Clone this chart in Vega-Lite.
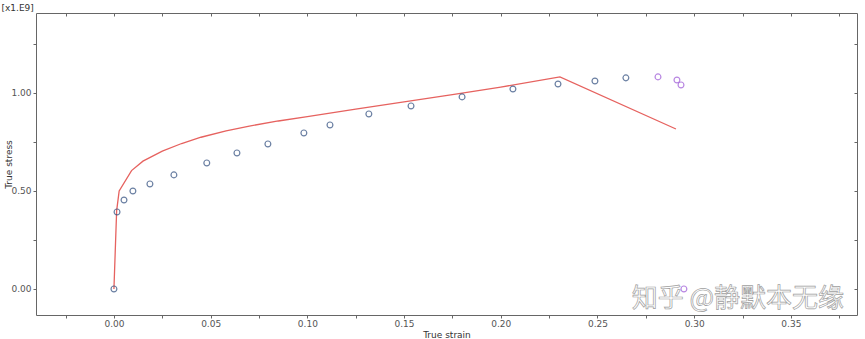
{
  "$schema": "https://vega.github.io/schema/vega-lite/v6.json",
  "autosize": "none",
  "width": 821,
  "height": 302,
  "padding": {"left": 36, "top": 13, "right": 8, "bottom": 24},
  "background": "white",
  "config": {
    "view": {"stroke": null},
    "font": "DejaVu Sans",
    "axis": {"grid": false, "domainColor": "#666666", "tickColor": "#666666", "labelColor": "#555555", "titleColor": "#333333", "labelFontSize": 9, "titleFontSize": 9, "titleFontWeight": "normal", "labelFont": "DejaVu Sans", "titleFont": "DejaVu Sans"}
  },
  "datasets": {
    "curve": [
      {"strain": 0.0, "stress": 0.0},
      {"strain": 0.0014, "stress": 0.40},
      {"strain": 0.0027, "stress": 0.50},
      {"strain": 0.0091, "stress": 0.604},
      {"strain": 0.015, "stress": 0.652},
      {"strain": 0.025, "stress": 0.703},
      {"strain": 0.035, "stress": 0.742},
      {"strain": 0.045, "stress": 0.774},
      {"strain": 0.058, "stress": 0.806},
      {"strain": 0.07, "stress": 0.831},
      {"strain": 0.085, "stress": 0.857},
      {"strain": 0.10, "stress": 0.879},
      {"strain": 0.125, "stress": 0.918},
      {"strain": 0.15, "stress": 0.955},
      {"strain": 0.175, "stress": 0.992},
      {"strain": 0.20, "stress": 1.03},
      {"strain": 0.2306, "stress": 1.082},
      {"strain": 0.2906, "stress": 0.816}
    ],
    "pts": [
      {"strain": 0.0, "stress": 0.0, "set": "a"},
      {"strain": 0.0016, "stress": 0.393, "set": "a"},
      {"strain": 0.0052, "stress": 0.454, "set": "a"},
      {"strain": 0.0098, "stress": 0.50, "set": "a"},
      {"strain": 0.0186, "stress": 0.536, "set": "a"},
      {"strain": 0.031, "stress": 0.582, "set": "a"},
      {"strain": 0.048, "stress": 0.643, "set": "a"},
      {"strain": 0.0636, "stress": 0.694, "set": "a"},
      {"strain": 0.0796, "stress": 0.740, "set": "a"},
      {"strain": 0.0982, "stress": 0.796, "set": "a"},
      {"strain": 0.1117, "stress": 0.837, "set": "a"},
      {"strain": 0.1318, "stress": 0.893, "set": "a"},
      {"strain": 0.1536, "stress": 0.934, "set": "a"},
      {"strain": 0.180, "stress": 0.980, "set": "a"},
      {"strain": 0.2063, "stress": 1.020, "set": "a"},
      {"strain": 0.2296, "stress": 1.046, "set": "a"},
      {"strain": 0.2487, "stress": 1.061, "set": "a"},
      {"strain": 0.2647, "stress": 1.077, "set": "a"},
      {"strain": 0.2813, "stress": 1.082, "set": "b"},
      {"strain": 0.2911, "stress": 1.066, "set": "b"},
      {"strain": 0.2932, "stress": 1.041, "set": "b"},
      {"strain": 0.2947, "stress": 0.0, "set": "b"}
    ],
    "mark": [
      {"strain": 0.3226, "stress": -0.052, "label": "知乎 @静默本无缘"}
    ]
  },
  "resolve": {"axis": {"x": "independent", "y": "independent"}},
  "layer": [
    {
      "data": {"name": "curve"},
      "mark": {"type": "line", "color": "#e6625f", "strokeWidth": 1.3},
      "encoding": {
        "x": {"field": "strain", "type": "quantitative", "scale": {"domain": [-0.0403, 0.3842], "nice": false, "zero": false},
          "axis": {"orient": "bottom", "title": "True strain", "values": [-0.025, 0, 0.025, 0.05, 0.075, 0.1, 0.125, 0.15, 0.175, 0.2, 0.225, 0.25, 0.275, 0.3, 0.325, 0.35, 0.375], "labelExpr": "abs(datum.value*20 - round(datum.value*20)) < 0.01 ? format(datum.value, '.2f') : ''", "tickSize": 3, "labelPadding": 1, "titlePadding": 2}},
        "y": {"field": "stress", "type": "quantitative", "scale": {"domain": [-0.133, 1.408], "nice": false, "zero": false},
          "axis": {"orient": "left", "title": "True stress", "titleX": -28, "titleY": 151, "titleAngle": 270, "titleAlign": "center", "titleBaseline": "middle", "values": [0, 0.25, 0.5, 0.75, 1, 1.25], "labelExpr": "abs(datum.value*2 - round(datum.value*2)) < 0.01 ? format(datum.value, '.2f') : ''", "tickSize": 3, "labelPadding": 2}}
      }
    },
    {
      "data": {"name": "mark"},
      "mark": {"type": "text", "font": "Noto Sans CJK SC", "fontSize": 26, "fill": "white", "fillOpacity": 0.6, "stroke": "#a0a0a0", "strokeWidth": 0.7, "align": "center", "baseline": "middle"},
      "encoding": {
        "x": {"field": "strain", "type": "quantitative", "axis": null},
        "y": {"field": "stress", "type": "quantitative", "axis": null},
        "text": {"field": "label", "type": "nominal"}
      }
    },
    {
      "data": {"name": "pts"},
      "mark": {"type": "point", "shape": "circle", "filled": false, "size": 34, "strokeWidth": 1.2},
      "encoding": {
        "x": {"field": "strain", "type": "quantitative",
          "axis": {"orient": "top", "title": "[x1.E9]", "titleX": -35, "titleY": -1, "titleAlign": "left", "titleBaseline": "bottom", "titleFontSize": 9, "labels": false, "values": [-0.025, 0, 0.025, 0.05, 0.075, 0.1, 0.125, 0.15, 0.175, 0.2, 0.225, 0.25, 0.275, 0.3, 0.325, 0.35, 0.375], "tickSize": -3}},
        "y": {"field": "stress", "type": "quantitative",
          "axis": {"orient": "right", "title": null, "labels": false, "values": [0, 0.25, 0.5, 0.75, 1, 1.25], "tickSize": -3}},
        "color": {"field": "set", "type": "nominal", "scale": {"domain": ["a", "b"], "range": ["#2c4a7c", "#9b55d6"]}, "legend": null}
      }
    }
  ]
}
